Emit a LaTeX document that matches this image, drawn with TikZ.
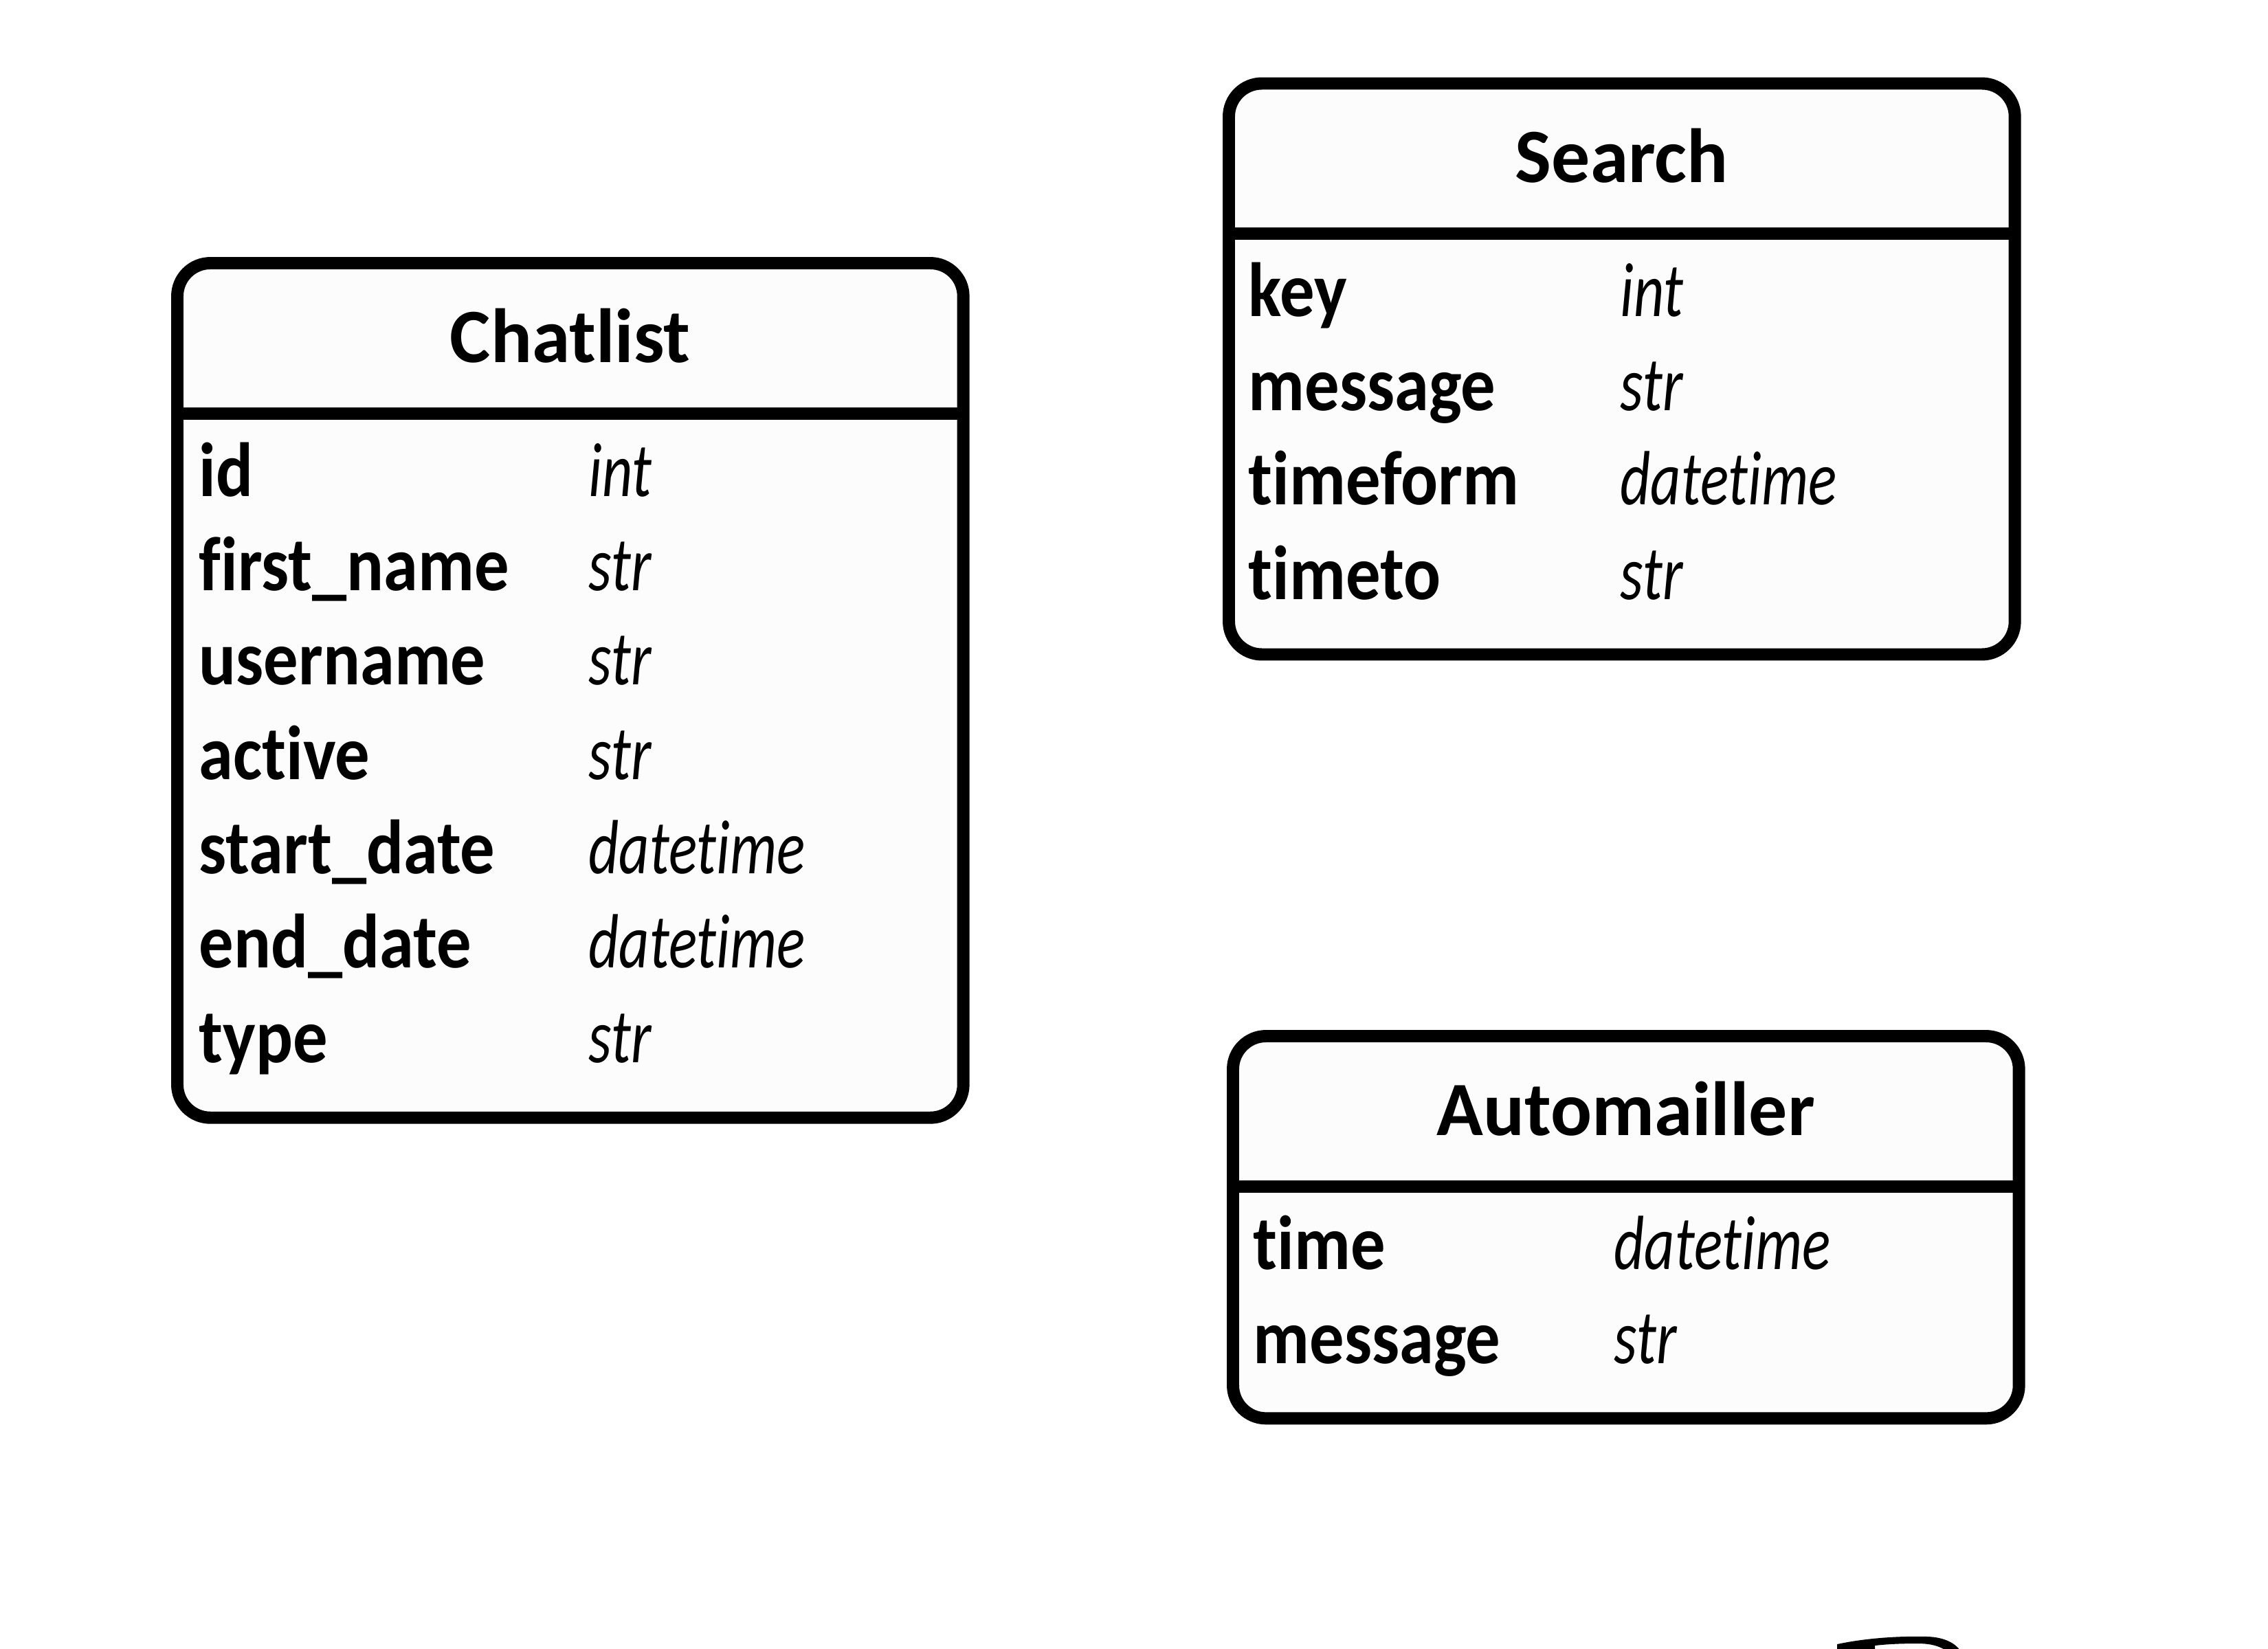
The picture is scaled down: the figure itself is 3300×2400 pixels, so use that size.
\documentclass[tikz,border=0pt]{standalone}
\usepackage{fontspec}
\setmainfont{Carlito}[Ligatures=CommonOff ,BoldFeatures={FakeStretch=0.9} ,ItalicFeatures={FakeStretch=0.77}]
\newfontfamily\headfont{Carlito}[Ligatures=CommonOff]
\usetikzlibrary{positioning}
\definecolor{paper}{HTML}{FCFCFC}

\begin{document}
\begin{tikzpicture}[x=0.01cm ,y=-0.01cm ,on grid ,node distance =1.373cm ,
    tbl/.style ={ rectangle ,draw ,fill=paper ,line width =5.1pt ,rounded corners =0.48cm ,
    anchor=north west ,minimum width =11.43cm ,inner sep=0pt ,outer sep=0pt},
    rule/.style ={ line width =5.1pt},
    head/.style ={ anchor=base ,inner sep=0pt ,font=\headfont\bfseries\fontsize{31.8}{34}\selectfont},
    fld/.style ={ inner sep=0pt ,text width =5.2cm ,align=left ,text height=0.75em ,text depth=0.25em ,
    font=\bfseries\fontsize{31.8}{34}\selectfont},
    typ/.style ={ fld ,font=\itshape\fontsize{31.8}{34}\selectfont}]
    \fill[white] (0,0) rectangle (3300,2400);
    \useasboundingbox (0,0) rectangle (3300,2400);

    % Chatlist
    \node[tbl ,minimum height =12.43cm] (chatlist) at (258,383) {};
    \draw[rule] (chatlist.west |- 0,602) -- (chatlist.east |- 0,602);
    \node[head] (chatlisthead) at (829.5,527) {Chatlist};
    \node[fld ,anchor=base west] (c1) at (289,722) {id};
    \node[fld] (c2) [below =of c1] {first\_name};
    \node[fld] (c3) [below =of c2] {username};
    \node[fld] (c4) [below =of c3] {active};
    \node[fld] (c5) [below =of c4] {start\_date};
    \node[fld] (c6) [below =of c5] {end\_date};
    \node[fld] (c7) [below =of c6] {type};
    \node[typ ,anchor=base west] (ct1) at (856,722) {int};
    \node[typ] (ct2) [below =of ct1] {str};
    \node[typ] (ct3) [below =of ct2] {str};
    \node[typ] (ct4) [below =of ct3] {str};
    \node[typ] (ct5) [below =of ct4] {datetime};
    \node[typ] (ct6) [below =of ct5] {datetime};
    \node[typ] (ct7) [below =of ct6] {str};

    % Search
    \node[tbl ,minimum height =8.305cm] (search) at (1788,121.5) {};
    \draw[rule] (search.west |- 0,340) -- (search.east |- 0,340);
    \node[head] (searchhead) at (2359.5,265) {Search};
    \node[fld ,anchor=base west] (s1) at (1816,460) {key};
    \node[fld] (s2) [below =of s1] {message};
    \node[fld] (s3) [below =of s2] {timeform};
    \node[fld] (s4) [below =of s3] {timeto};
    \node[typ ,anchor=base west] (st1) at (2357,460) {int};
    \node[typ] (st2) [below =of st1] {str};
    \node[typ] (st3) [below =of st2] {datetime};
    \node[typ] (st4) [below =of st3] {str};

    % Automailler
    \node[tbl ,minimum height =5.56cm] (automailler) at (1794,1508) {};
    \draw[rule] (automailler.west |- 0,1727) -- (automailler.east |- 0,1727);
    \node[head] (automaillerhead) at (2365.5,1652) {Automailler};
    \node[fld ,anchor=base west] (a1) at (1823,1847) {time};
    \node[fld] (a2) [below =of a1] {message};
    \node[typ ,anchor=base west] (at1) at (2348,1847) {datetime};
    \node[typ] (at2) [below =of at1] {str};

    % cut letter at the bottom edge
    \fill (2673,2402) -- (2673,2393) .. controls (2720,2383) and (2770,2381) .. (2805,2382)
      .. controls (2830,2383) and (2845,2392) .. (2852,2402) -- (2831,2402)
      .. controls (2822,2396) and (2810,2392) .. (2790,2392)
      .. controls (2765,2392) and (2745,2393) .. (2728,2395) -- (2728,2402) -- cycle;
\end{tikzpicture}
\end{document}
